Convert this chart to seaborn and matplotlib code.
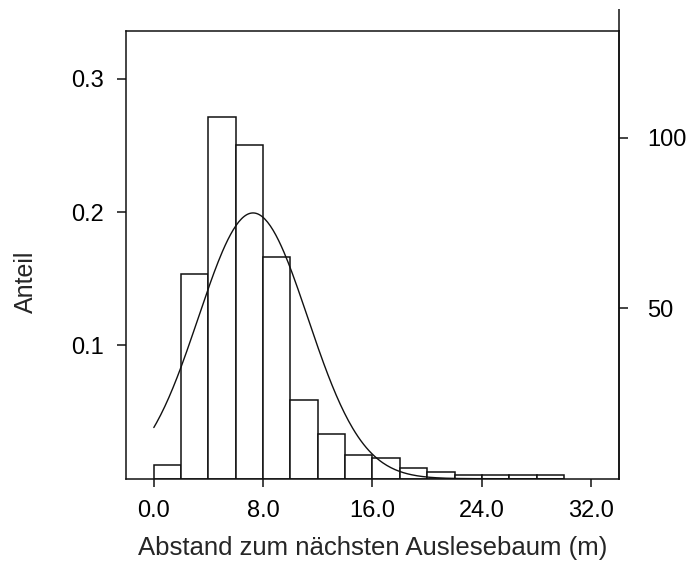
import numpy as np
import pandas as pd
import matplotlib
matplotlib.use("Agg")
import matplotlib.pyplot as plt
import seaborn as sns

# Distance classes (m), 2 m wide, and number of trees per class
bin_left = [0, 2, 4, 6, 8, 10, 12, 14, 16, 18, 20, 22, 24, 26, 28]
counts = [4, 60, 106, 98, 65, 23, 13, 7, 6, 3, 2, 1, 1, 1, 1]
bin_width = 2.0

# Fitted normal distribution
fit_mean = 7.26
fit_sd = 4.0

x_ticks = [0.0, 8.0, 16.0, 24.0, 32.0]
x_ticklabels = ["0.0", "8.0", "16.0", "24.0", "32.0"]
y_ticks = [0.1, 0.2, 0.3]
y_ticklabels = ["0.1", "0.2", "0.3"]
count_ticks = [50, 100]
count_ticklabels = ["50", "100"]

sns.set_theme(style="white")
plt.rcParams["font.family"] = ["Liberation Sans", "DejaVu Sans"]

n_total = sum(counts)
df = pd.DataFrame({
    "mid": np.array(bin_left) + bin_width / 2,
    "anteil": np.array(counts) / n_total,
})
edges = list(bin_left) + [bin_left[-1] + bin_width]

fig = plt.figure(figsize=(6.9, 5.64), dpi=100)
ax = fig.add_axes([0.1833, 0.1512, 0.7131, 0.7938])

sns.histplot(data=df, x="mid", weights="anteil", bins=edges, stat="count",
             color="white", edgecolor="#111111", linewidth=1.1, alpha=1,
             ax=ax)

# Normal curve scaled to class width
xs = np.linspace(edges[0], edges[-1], 300)
ys = bin_width * np.exp(-0.5 * ((xs - fit_mean) / fit_sd) ** 2) / (fit_sd * np.sqrt(2 * np.pi))
sns.lineplot(x=xs, y=ys, color="#111111", linewidth=1.0, ax=ax)

ax.set_xlim(-2, 34)
ax.set_ylim(0, 0.336)
ax.set_xticks(x_ticks)
ax.set_xticklabels(x_ticklabels)
ax.set_yticks(y_ticks)
ax.set_yticklabels(y_ticklabels)
ax.set_xlabel("Abstand zum nächsten Auslesebaum (m)", fontsize=18.5)
ax.set_ylabel("Anteil", fontsize=18)
ax.xaxis.set_label_coords(0.5, -0.127)
ax.yaxis.set_label_coords(-0.18, 0.439)

for side in ["left", "right", "top", "bottom"]:
    ax.spines[side].set_visible(True)
    ax.spines[side].set_color("#111111")
    ax.spines[side].set_linewidth(1.1)
ax.tick_params(axis="both", which="major", direction="out", length=6.5,
               width=1.1, color="#111111", labelsize=17, pad=10,
               bottom=True, left=True, labelcolor="black")
ax.tick_params(axis="x", length=6, pad=9)

# Secondary axis with absolute numbers
ax2 = ax.twinx()
ax2.set_ylim(0, 0.336 * n_total)
ax2.set_yticks(count_ticks)
ax2.set_yticklabels(count_ticklabels)
for side in ["left", "top", "bottom"]:
    ax2.spines[side].set_visible(False)
ax2.spines["right"].set_color("#111111")
ax2.spines["right"].set_linewidth(1.1)
ax2.tick_params(axis="y", direction="out", length=6.5, width=1.1,
                color="#111111", labelsize=17, pad=14, right=True,
                labelcolor="black")
ax2.grid(False)
ax.grid(False)

# Right axis line continues above the frame
ax2.plot([1, 1], [1, 1.049], transform=ax2.transAxes, color="#111111",
         linewidth=1.1, clip_on=False, solid_capstyle="butt")

fig.savefig("out.png", dpi=100)
